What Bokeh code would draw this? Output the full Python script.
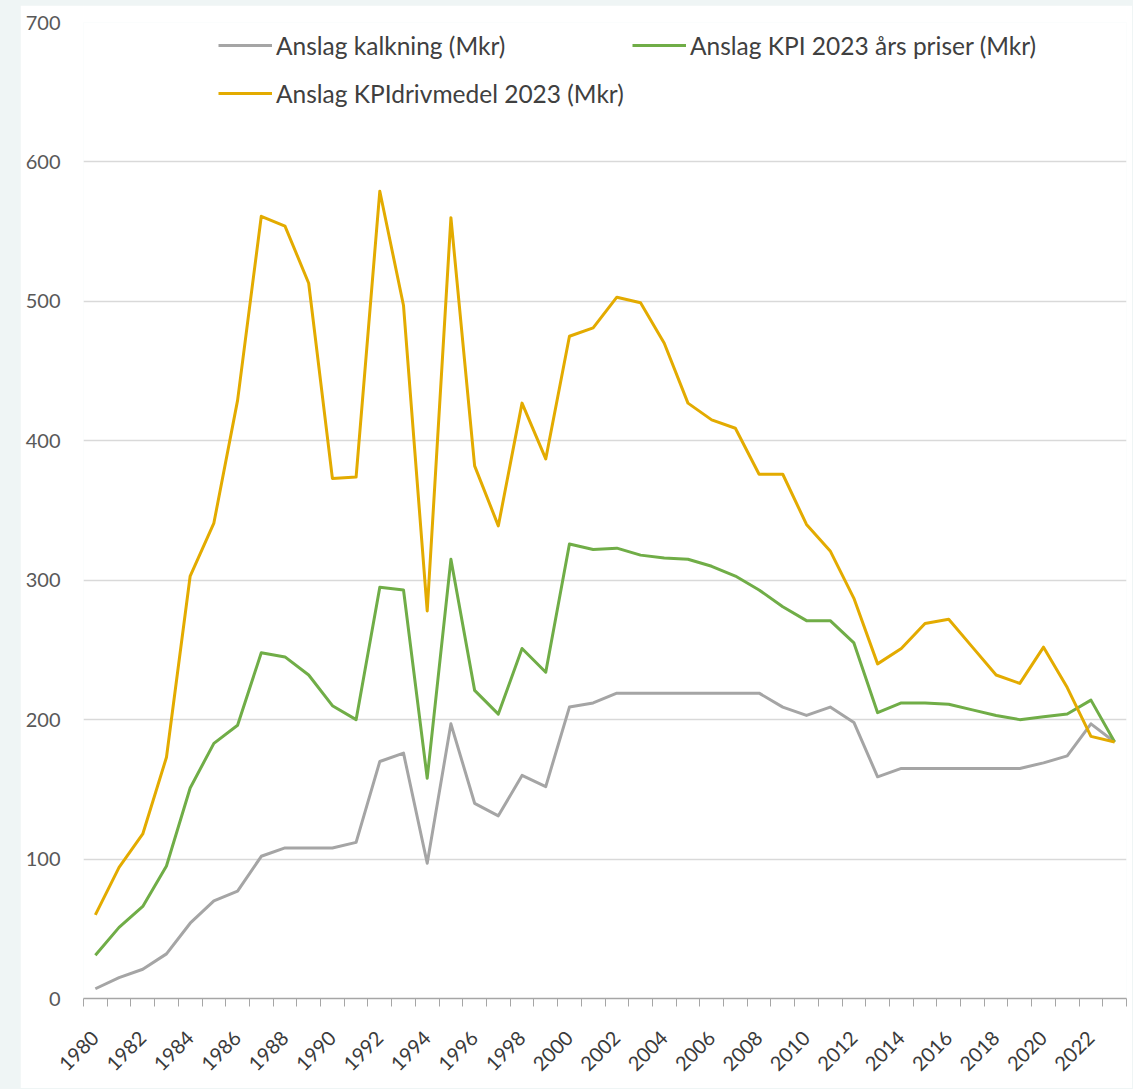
import math
from bokeh.plotting import figure
from bokeh.models import FixedTicker, Legend, LegendItem, GlobalInlineStyleSheet
from bokeh.embed import file_html
from bokeh.resources import INLINE

# ---- data ----
years = list(range(1980, 2024))
kalkning = [7, 15, 21, 32, 54, 70, 77, 102, 108, 108,
            108, 112, 170, 176, 97, 197, 140, 131, 160, 152,
            209, 212, 219, 219, 219, 219, 219, 219, 219, 209,
            203, 209, 198, 159, 165, 165, 165, 165, 165, 165,
            169, 174, 197, 184]
kpi_2023 = [31, 51, 66, 95, 151, 183, 196, 248, 245, 232,
            210, 200, 295, 293, 158, 315, 221, 204, 251, 234,
            326, 322, 323, 318, 316, 315, 310, 303, 293, 281,
            271, 271, 255, 205, 212, 212, 211, 207, 203, 200,
            202, 204, 214, 184]
kpi_drivmedel = [60, 94, 118, 173, 303, 341, 429, 561, 554, 513,
                 373, 374, 579, 497, 278, 560, 382, 339, 427, 387,
                 475, 481, 503, 499, 470, 427, 415, 409, 376, 376,
                 340, 321, 287, 240, 251, 269, 272, 252, 232, 226,
                 252, 223, 188, 184]
series_names = ["Anslag kalkning (Mkr)",
                "Anslag KPI 2023 års priser (Mkr)",
                "Anslag KPIdrivmedel 2023 (Mkr)"]
series_colors = ["#a5a5a5", "#70ad47", "#e3ab00"]
y_ticks = [0, 100, 200, 300, 400, 500, 600, 700]
x_label_years = list(range(1980, 2023, 2))

FONT = "Lato"

page_css = GlobalInlineStyleSheet(css="html, body { background-color: #eff5f5; }")

p = figure(width=1112, height=1083, output_backend="svg", toolbar_location=None,
           x_range=(1979.5, 2023.5), y_range=(0, 700),
           min_border_left=63, min_border_right=6, min_border_top=17,
           min_border_bottom=90, background_fill_color="white",
           border_fill_color="white", outline_line_color=None,
           margin=(5, 0, 0, 20))
p.stylesheets = [page_css]

renderers = []
for vals, col in zip([kalkning, kpi_2023, kpi_drivmedel], series_colors):
    r = p.line(years, vals, line_color=col, line_width=3, line_join="round")
    renderers.append(r)

# axes
xa = p.xaxis[0]
xa.ticker = FixedTicker(ticks=x_label_years,
                        minor_ticks=[y - 0.5 for y in range(1980, 2025)])
xa.major_tick_out = 0
xa.major_tick_in = 0
xa.minor_tick_out = 8
xa.minor_tick_in = 0
xa.minor_tick_line_color = "#a6a6a6"
xa.minor_tick_line_width = 1
xa.axis_line_color = "#a6a6a6"
xa.axis_line_width = 1.5
xa.major_label_orientation = math.pi / 4
xa.major_label_standoff = 28
xa.major_label_overrides = {y: str(y) for y in x_label_years}
xa.major_label_text_font = FONT
xa.major_label_text_font_size = "20px"
xa.major_label_text_color = "#3a3a3a"

ya = p.yaxis[0]
ya.ticker = FixedTicker(ticks=y_ticks)
ya.axis_line_color = None
ya.major_tick_out = 0
ya.major_tick_in = 0
ya.minor_tick_out = 0
ya.minor_tick_in = 0
ya.major_label_standoff = 23
ya.major_label_text_font = FONT
ya.major_label_text_font_size = "20px"
ya.major_label_text_color = "#595959"

p.xgrid.visible = False
p.ygrid.ticker = ya.ticker
p.ygrid.grid_line_color = "#d9d9d9"
p.ygrid.grid_line_width = 1.5

def make_legend(items, loc):
    lg = Legend(items=items, location=loc, orientation="vertical",
                background_fill_alpha=0, border_line_color=None,
                padding=0, margin=0, spacing=18,
                glyph_width=54, glyph_height=30, label_height=30,
                label_standoff=4, label_text_font=FONT,
                label_text_font_size="24.5px", label_text_color="#404040")
    return lg

leg1 = make_legend([LegendItem(label=series_names[0], renderers=[renderers[0]]),
                    LegendItem(label=series_names[2], renderers=[renderers[2]])],
                   (135, 890))
leg2 = make_legend([LegendItem(label=series_names[1], renderers=[renderers[1]])],
                   (549, 938))
p.add_layout(leg1)
p.add_layout(leg2)

open("out.html", "w").write(file_html(p, INLINE))
